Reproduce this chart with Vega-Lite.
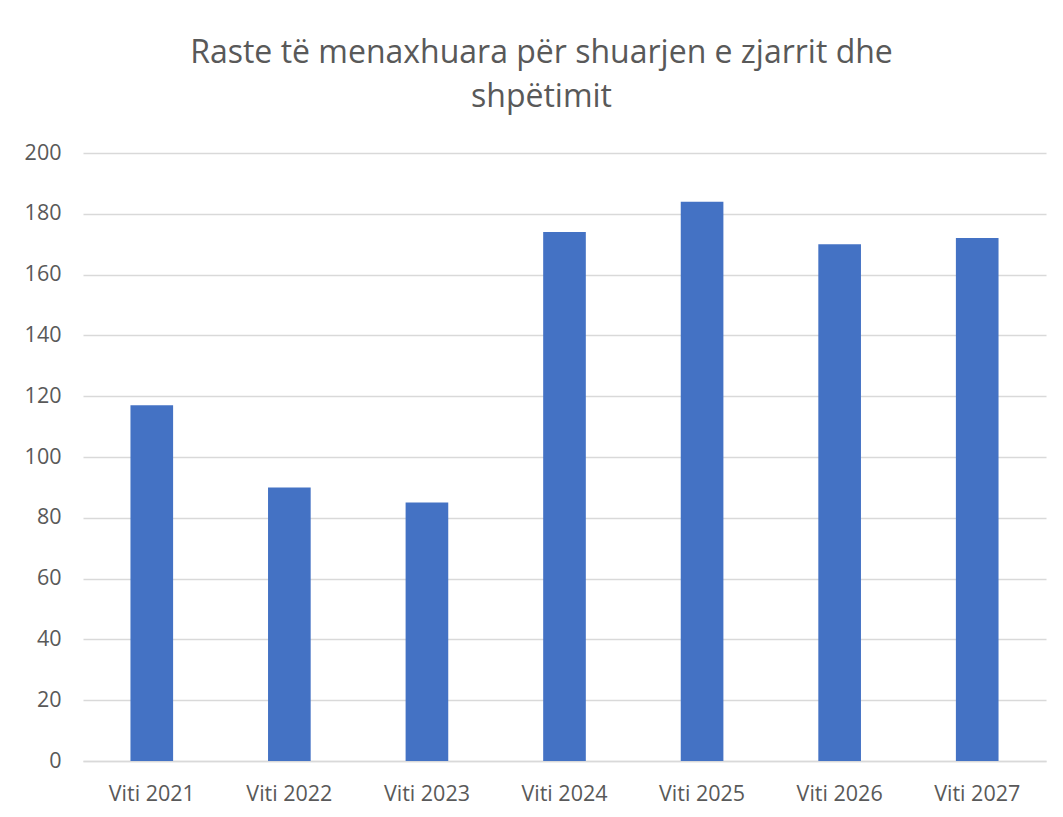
{
  "$schema": "https://vega.github.io/schema/vega-lite/v6.json",
  "autosize": "none",
  "width": 963,
  "height": 608,
  "padding": {"left": 83, "top": 153, "right": 17, "bottom": 56},
  "background": "white",
  "title": {
    "text": ["Raste të menaxhuara për shuarjen e zjarrit dhe", "shpëtimit"],
    "font": "Open Sans",
    "fontSize": 32,
    "fontWeight": "normal",
    "color": "#595959",
    "anchor": "middle",
    "frame": "group",
    "lineHeight": 44,
    "offset": 28,
    "dx": -23
  },
  "data": {
    "values": [
      {"viti": "Viti 2021", "raste": 117},
      {"viti": "Viti 2022", "raste": 90},
      {"viti": "Viti 2023", "raste": 85},
      {"viti": "Viti 2024", "raste": 174},
      {"viti": "Viti 2025", "raste": 184},
      {"viti": "Viti 2026", "raste": 170},
      {"viti": "Viti 2027", "raste": 172}
    ]
  },
  "mark": {"type": "bar", "color": "#4472C4"},
  "encoding": {
    "x": {
      "field": "viti",
      "type": "nominal",
      "sort": null,
      "scale": {"paddingInner": 0.69, "paddingOuter": 0.345},
      "axis": {
        "title": null,
        "labelAngle": 0,
        "labelFont": "Open Sans",
        "labelFontSize": 21.5,
        "labelColor": "#595959",
        "labelPadding": 22,
        "ticks": false,
        "domainColor": "#D9D9D9",
        "domainWidth": 1.5
      }
    },
    "y": {
      "field": "raste",
      "type": "quantitative",
      "scale": {"domain": [0, 200], "nice": false},
      "axis": {
        "title": null,
        "values": [0, 20, 40, 60, 80, 100, 120, 140, 160, 180, 200],
        "labelFont": "Open Sans",
        "labelFontSize": 21.5,
        "labelColor": "#595959",
        "labelPadding": 22,
        "ticks": false,
        "domain": false,
        "gridColor": "#D9D9D9",
        "gridWidth": 1.5
      }
    }
  },
  "config": {"view": {"stroke": null}}
}
